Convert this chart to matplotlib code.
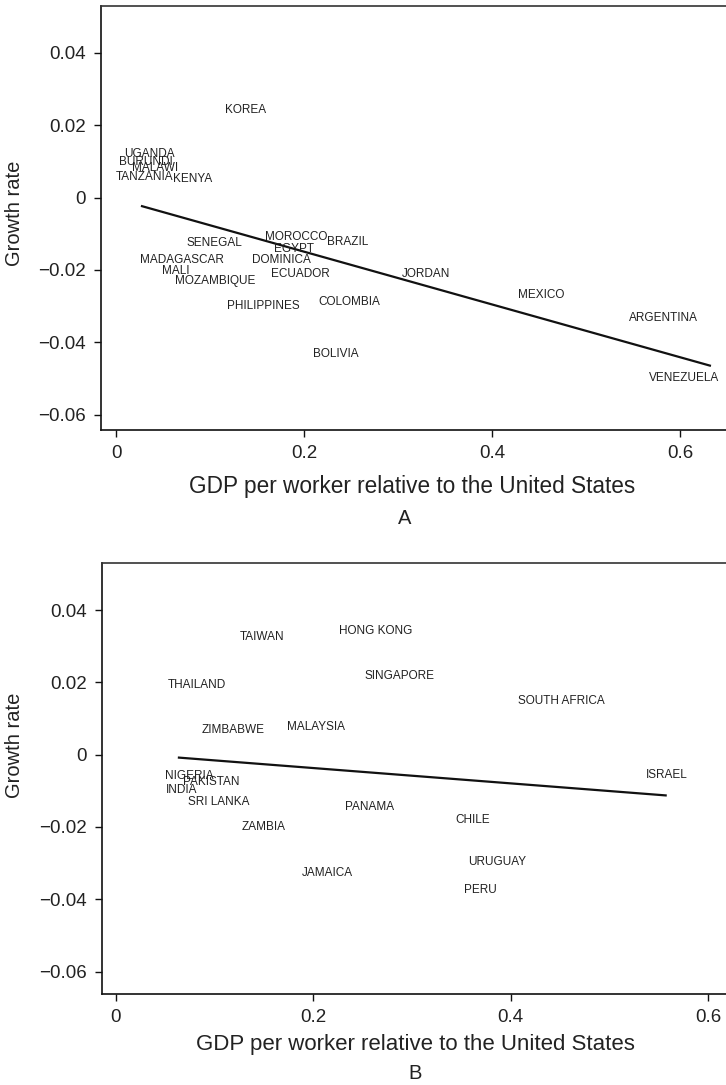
import matplotlib
matplotlib.use('Agg')
from matplotlib import pyplot as plt

plt.rcParams['font.family'] = ['Liberation Sans', 'DejaVu Sans']

# panel A: countries, GDP per worker rel. to US, growth rate
a_names = ['KOREA', 'UGANDA', 'BURUNDI', 'MALAWI', 'TANZANIA', 'KENYA',
           'SENEGAL', 'MOROCCO', 'EGYPT', 'BRAZIL', 'MADAGASCAR', 'DOMINICA',
           'MALI', 'MOZAMBIQUE', 'ECUADOR', 'PHILIPPINES', 'COLOMBIA',
           'BOLIVIA', 'JORDAN', 'MEXICO', 'ARGENTINA', 'VENEZUELA']
a_gdp = [0.138, 0.036, 0.032, 0.042, 0.030, 0.082,
         0.105, 0.192, 0.189, 0.246, 0.070, 0.176,
         0.064, 0.106, 0.196, 0.157, 0.248,
         0.234, 0.330, 0.452, 0.582, 0.604]
a_growth = [0.0242, 0.0120, 0.0098, 0.0082, 0.0057, 0.0051,
            -0.0125, -0.0109, -0.0142, -0.0123, -0.0172, -0.0172,
            -0.0203, -0.0230, -0.0211, -0.0299, -0.0288,
            -0.0432, -0.0211, -0.0269, -0.0332, -0.0498]
a_fit_x = [0.0265, 0.633]
a_fit_y = [-0.0023, -0.0465]

# panel B
b_names = ['TAIWAN', 'HONG KONG', 'THAILAND', 'SINGAPORE', 'SOUTH AFRICA',
           'ZIMBABWE', 'MALAYSIA', 'ISRAEL', 'NIGERIA', 'PAKISTAN', 'INDIA',
           'SRI LANKA', 'PANAMA', 'CHILE', 'ZAMBIA', 'URUGUAY', 'JAMAICA', 'PERU']
b_gdp = [0.148, 0.263, 0.082, 0.287, 0.451,
         0.119, 0.203, 0.558, 0.074, 0.097, 0.067,
         0.104, 0.257, 0.361, 0.150, 0.386, 0.214, 0.369]
b_growth = [0.0326, 0.0342, 0.0193, 0.0218, 0.0149,
            0.0069, 0.0077, -0.0055, -0.0058, -0.0077, -0.0097,
            -0.0130, -0.0146, -0.0182, -0.0201, -0.0298, -0.0326, -0.0375]
b_fit_x = [0.0628, 0.558]
b_fit_y = [-0.0008, -0.0113]

xticks = [0, 0.2, 0.4, 0.6]
xtick_labels = ['0', '0.2', '0.4', '0.6']
yticks = [0.04, 0.02, 0, -0.02, -0.04, -0.06]
ytick_labels = ['0.04', '0.02', '0', '\u22120.02', '\u22120.04', '\u22120.06']

txt = '#222222'
W, H = 726, 1085
fig = plt.figure(figsize=(W / 100, H / 100), dpi=100)


def panel(rect, names, gdp, growth, fit_x, fit_y, xlim, ylim):
    ax = fig.add_axes(rect)
    for n, x, y in zip(names, gdp, growth):
        ax.text(x, y, n, ha='center', va='center', fontsize=8.5, color=txt)
    ax.plot(fit_x, fit_y, color='#111111', lw=1.6, solid_capstyle='butt')
    ax.set_xlim(xlim)
    ax.set_ylim(ylim)
    ax.set_xticks(xticks)
    ax.set_xticklabels(xtick_labels)
    ax.set_yticks(yticks)
    ax.set_yticklabels(ytick_labels)
    ax.tick_params(direction='out', length=5, width=1, labelsize=13.5,
                   colors='#111111', labelcolor=txt, pad=6)
    ax.spines['right'].set_visible(False)
    for s in ['left', 'bottom', 'top']:
        ax.spines[s].set_linewidth(1.2)
        ax.spines[s].set_color('#111111')
    ax.spines['top'].set_color('#333333')
    return ax


# panel A: frame from x=101 to right edge, y=6 to 430
panel([101 / W, 1 - 430 / H, 1 - 101 / W, (430 - 6) / H],
      a_names, a_gdp, a_growth, a_fit_x, a_fit_y,
      (-0.016, 0.649), (-0.0642, 0.0529))
# panel B: frame from x=102 to right edge, y=563 to 994
panel([102 / W, 1 - 994 / H, 1 - 102 / W, (994 - 563) / H],
      b_names, b_gdp, b_growth, b_fit_x, b_fit_y,
      (-0.014, 0.618), (-0.0662, 0.0530))

fig.text(15 / W, 1 - 213 / H, 'Growth rate', rotation=90, ha='center', va='center',
         fontsize=14.5, color=txt)
fig.text(412 / W, 1 - 493 / H, 'GDP per worker relative to the United States',
         ha='center', va='baseline', fontsize=16.3, color=txt)
fig.text(405 / W, 1 - 524 / H, 'A', ha='center', va='baseline', fontsize=14.5, color=txt)

fig.text(15 / W, 1 - 745 / H, 'Growth rate', rotation=90, ha='center', va='center',
         fontsize=14.5, color=txt)
fig.text(415 / W, 1 - 1050 / H, 'GDP per worker relative to the United States',
         ha='center', va='baseline', fontsize=16, color=txt)
fig.text(415 / W, 1 - 1079 / H, 'B', ha='center', va='baseline', fontsize=14.5, color=txt)

plt.savefig('out.png', dpi=100)
